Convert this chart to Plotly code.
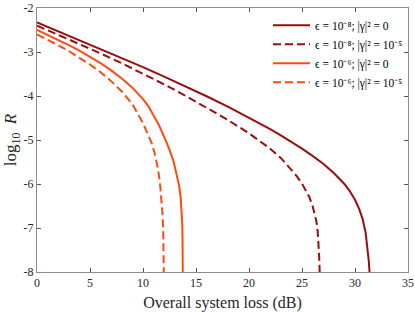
import plotly.graph_objects as go

# Overall system loss (dB) and log10 R
loss_a = [0, 2, 4, 6, 8, 10, 12, 14, 16, 18, 20, 21, 22, 23, 24, 25, 26, 27, 28, 28.5, 29, 29.5, 30,
          30.4, 30.7, 31.0, 31.2, 31.3, 31.4, 31.45]
logR_a = [-2.33, -2.53, -2.73, -2.93, -3.135, -3.345, -3.56, -3.78, -4.005, -4.24, -4.49, -4.62, -4.755,
          -4.895, -5.04, -5.195, -5.36, -5.54, -5.75, -5.87, -6.00, -6.16, -6.36, -6.57, -6.78, -7.10,
          -7.50, -7.75, -8.1, -8.5]

loss_b = [0, 2, 4, 6, 8, 10, 12, 14, 16, 18, 20, 21, 22, 23, 24, 24.5, 25, 25.4, 25.7, 26, 26.2, 26.36,
          26.48, 26.56, 26.62, 26.67, 26.7]
logR_b = [-2.40, -2.606, -2.816, -3.032, -3.256, -3.49, -3.736, -3.992, -4.26, -4.544, -4.848, -5.013,
          -5.198, -5.408, -5.67, -5.82, -5.99, -6.15, -6.30, -6.50, -6.67, -6.85, -7.08, -7.35, -7.65,
          -8.0, -8.3]

loss_c = [0, 1, 2, 3, 4, 5, 6, 7, 8, 9, 10, 10.5, 11, 11.5, 12, 12.5, 12.9, 13.2, 13.4, 13.55, 13.65,
          13.7, 13.73, 13.75, 13.76]
logR_c = [-2.50, -2.61, -2.724, -2.844, -2.971, -3.107, -3.255, -3.418, -3.601, -3.811, -4.071, -4.23,
          -4.43, -4.66, -4.93, -5.22, -5.50, -5.78, -6.03, -6.30, -6.60, -6.90, -7.3, -7.8, -8.3]

loss_d = [0, 1, 2, 3, 4, 5, 6, 7, 8, 9, 10, 10.4, 10.8, 11.1, 11.4, 11.6, 11.75, 11.85, 11.91, 11.95,
          11.97, 11.98]
logR_d = [-2.60, -2.72, -2.846, -2.98, -3.125, -3.284, -3.461, -3.662, -3.897, -4.187, -4.617, -4.82,
          -5.06, -5.30, -5.64, -5.97, -6.33, -6.72, -7.1, -7.6, -8.0, -8.4]

names = [
    "ϵ = 10⁻⁸; |γ|² = 0",
    "ϵ = 10⁻⁸; |γ|² = 10⁻⁵",
    "ϵ = 10⁻⁶; |γ|² = 0",
    "ϵ = 10⁻⁶; |γ|² = 10⁻⁵",
]

x_ticks = [0, 5, 10, 15, 20, 25, 30, 35]
y_ticks = [-8, -7, -6, -5, -4, -3, -2]
y_tick_text = ["-8", "-7", "-6", "-5", "-4", "-3", "-2"]

dark = "#9B0D0D"
orange = "#FF4A12"

fig = go.Figure()
series = [
    (loss_a, logR_a, dark, "solid"),
    (loss_b, logR_b, dark, "8px,4px"),
    (loss_c, logR_c, orange, "solid"),
    (loss_d, logR_d, orange, "8px,4px"),
]
for (xs, ys, col, dash), nm in zip(series, names):
    fig.add_trace(go.Scatter(x=xs, y=ys, mode="lines", name=nm,
                             line=dict(color=col, width=2, dash=dash)))

font_family = "Liberation Serif, Times New Roman, serif"
axis_common = dict(
    showline=True, linecolor="#8c8c8c", linewidth=1, mirror="ticks",
    ticks="inside", ticklen=4, tickcolor="#555555", tickwidth=1,
    showgrid=False, zeroline=False, automargin=False,
    tickfont=dict(family=font_family, size=12, color="#262626"),
)

fig.update_layout(
    width=415, height=312,
    margin=dict(l=37, r=7, t=8, b=40),
    paper_bgcolor="white", plot_bgcolor="white",
    font=dict(family=font_family, color="#262626"),
    xaxis=dict(range=[0, 35], tickvals=x_ticks,
               title=dict(text="Overall system loss (dB)", font=dict(size=16), standoff=7),
               **axis_common),
    yaxis=dict(range=[-8, -2], tickvals=y_ticks, ticktext=y_tick_text,
               title=dict(text="log<sub>10</sub>  <i>R</i>", font=dict(size=17), standoff=2),
               **axis_common),
    legend=dict(x=1.0, y=0.99, xanchor="right", yanchor="top",
                bgcolor="rgba(0,0,0,0)", borderwidth=0,
                font=dict(family=font_family, size=11.5, color="#000000"),
                itemwidth=37, tracegroupgap=0),
    showlegend=True,
)

fig.write_html("out.html", config={"displayModeBar": False},
               post_script="document.body.style.margin='0';")
